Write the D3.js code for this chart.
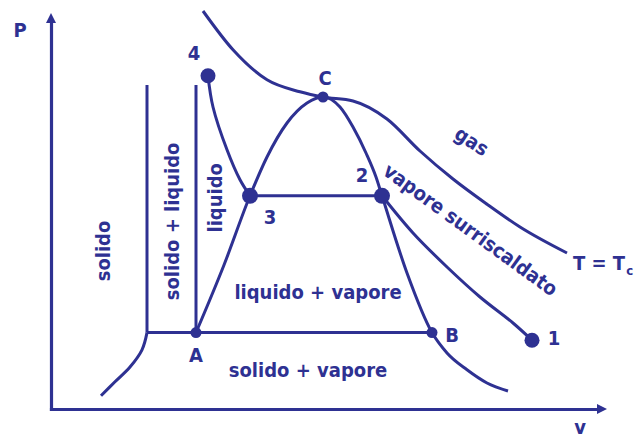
<html>
<head>
<script src="https://d3js.org/d3.v7.min.js"></script>
<style>
  body { margin: 0; background: #fff; }
  text { font-family: "DejaVu Sans Condensed", "DejaVu Sans", sans-serif; font-weight: bold; font-stretch: condensed; }
</style>
</head>
<body>
<svg id="chart" width="640" height="439"></svg>
<script>
// data, in (v, P) units
const triplePoints = [[1.92, 1.91], [2.9, 1.91], [7.62, 1.91]];      // left end, A, B
const fusionLeft = [[1.92, 1.91], [1.92, 8.1]];
const fusionRight = [[2.9, 1.91], [2.9, 8.1]];
const sublimation = [[1.92, 1.91], [1.82, 1.48], [1.58, 1.05], [1.28, 0.68], [1.0, 0.33]];
const dome = [[2.9, 1.91], [3.46, 3.6], [3.98, 5.33], [4.32, 6.3], [4.72, 7.15], [5.12, 7.65], [5.44, 7.8],
              [5.78, 7.55], [6.04, 7.05], [6.3, 6.4], [6.5, 5.8], [6.62, 5.33], [7.12, 3.4], [7.62, 1.91],
              [7.92, 1.4], [8.32, 0.98], [8.72, 0.65], [9.14, 0.45]];
const isoLiquid = [[3.14, 8.33], [3.24, 7.55], [3.52, 6.48], [3.78, 5.73], [3.98, 5.33]];
const isoMix = [[3.98, 5.33], [6.62, 5.33]];
const isoVapour = [[6.62, 5.33], [7.24, 4.4], [7.92, 3.55], [8.58, 2.8], [9.24, 2.15], [9.62, 1.72]];
const criticalIso = [[3.04, 9.95], [3.64, 8.98], [4.32, 8.23], [4.98, 7.93], [5.44, 7.8], [6.04, 7.7], [6.72, 7.25],
                     [7.38, 6.45], [8.04, 5.75], [8.72, 5.12], [9.38, 4.55], [10.32, 3.9]];

const pointNames = ["4", "C", "3", "2", "A", "B", "1"];
const pointV = [3.14, 5.44, 3.98, 6.62, 2.9, 7.62, 9.62];
const pointP = [8.33, 7.8, 5.33, 5.33, 1.91, 1.91, 1.72];
const pointLabelV = [2.86, 5.48, 4.38, 6.22, 2.9, 8.02, 10.06];
const pointLabelP = [8.73, 8.1, 4.63, 5.68, 1.18, 1.68, 1.6];

const regionNames = ["liquido + vapore", "solido + vapore", "solido", "solido + liquido", "liquido", "gas", "vapore surriscaldato"];
const regionV = [5.34, 5.14, 1.18, 2.56, 3.42, 8.34, 8.31];
const regionP = [2.75, 0.8, 3.95, 4.69, 5.28, 6.55, 4.34];
const regionAngle = [0, 0, -90, -90, -90, 33, 36];

const blue = "#2e3192";

const svg = d3.select("#chart");
const x = d3.scaleLinear().domain([0, 11.12]).range([51, 607]);
const y = d3.scaleLinear().domain([0, 9.9]).range([409, 13]);
const arrow = 10;

// axes, without ticks
const xAxisScale = x.copy().range([x(0), x(11.12) - arrow]);
const yAxisScale = y.copy().range([y(0), y(9.9) + arrow]);
svg.append("g").attr("transform", "translate(0," + y(0) + ")")
  .call(d3.axisBottom(xAxisScale).tickValues([]).tickSizeOuter(0));
svg.append("g").attr("transform", "translate(" + x(0) + ",0)")
  .call(d3.axisLeft(yAxisScale).tickValues([]).tickSizeOuter(0));
svg.selectAll(".domain").attr("stroke", blue).attr("stroke-width", 3.2).attr("stroke-linecap", "square");

svg.append("path")
  .attr("d", `M${x(11.12)},${y(0)} L${x(11.12) - arrow},${y(0) - 5} L${x(11.12) - arrow},${y(0) + 5} Z`)
  .attr("fill", blue);
svg.append("path")
  .attr("d", `M${x(0)},${y(9.9)} L${x(0) - 5},${y(9.9) + arrow} L${x(0) + 5},${y(9.9) + arrow} Z`)
  .attr("fill", blue);

svg.append("text").attr("x", x(-0.62)).attr("y", y(9.3)).attr("text-anchor", "middle")
  .attr("font-size", 20).attr("fill", blue).text("P");
svg.append("text").attr("x", x(10.58)).attr("y", y(-0.62)).attr("text-anchor", "middle")
  .attr("font-size", 20).attr("fill", blue).text("v");

const smooth = d3.line().x(d => x(d[0])).y(d => y(d[1])).curve(d3.curveCatmullRom.alpha(0.5));
const mono = d3.line().x(d => x(d[0])).y(d => y(d[1])).curve(d3.curveMonotoneX);
const straight = d3.line().x(d => x(d[0])).y(d => y(d[1]));

const curves = svg.append("g").attr("fill", "none").attr("stroke", blue).attr("stroke-width", 3);
curves.append("path").attr("d", straight([triplePoints[0], triplePoints[2]]));
curves.append("path").attr("d", straight(fusionLeft));
curves.append("path").attr("d", straight(fusionRight));
curves.append("path").attr("d", smooth(sublimation));
curves.append("path").attr("d", mono(dome));
curves.append("path").attr("d", smooth(isoLiquid));
curves.append("path").attr("d", straight(isoMix));
curves.append("path").attr("d", smooth(isoVapour));
curves.append("path").attr("d", mono(criticalIso));

const radius = [7.5, 5.5, 8, 8, 5.5, 5.5, 7.5];
svg.selectAll("circle.pt").data(pointNames).join("circle")
  .attr("class", "pt")
  .attr("cx", (d, i) => x(pointV[i])).attr("cy", (d, i) => y(pointP[i]))
  .attr("r", (d, i) => radius[i]).attr("fill", blue);

svg.selectAll("text.ptlabel").data(pointNames).join("text")
  .attr("class", "ptlabel")
  .attr("x", (d, i) => x(pointLabelV[i])).attr("y", (d, i) => y(pointLabelP[i]))
  .attr("text-anchor", "middle").attr("font-size", 20).attr("fill", blue)
  .text(d => d);

svg.selectAll("text.region").data(regionNames).join("text")
  .attr("class", "region")
  .attr("transform", (d, i) => `translate(${x(regionV[i])},${y(regionP[i])}) rotate(${regionAngle[i]})`)
  .attr("text-anchor", "middle").attr("font-size", 20).attr("fill", blue)
  .text(d => d);

const tc = svg.append("text").attr("x", x(10.44)).attr("y", y(3.48))
  .attr("font-size", 20).attr("fill", blue);
tc.append("tspan").text("T = T");
tc.append("tspan").attr("font-size", 13).attr("dy", 5).attr("dx", 1).text("c");
</script>
</body>
</html>
